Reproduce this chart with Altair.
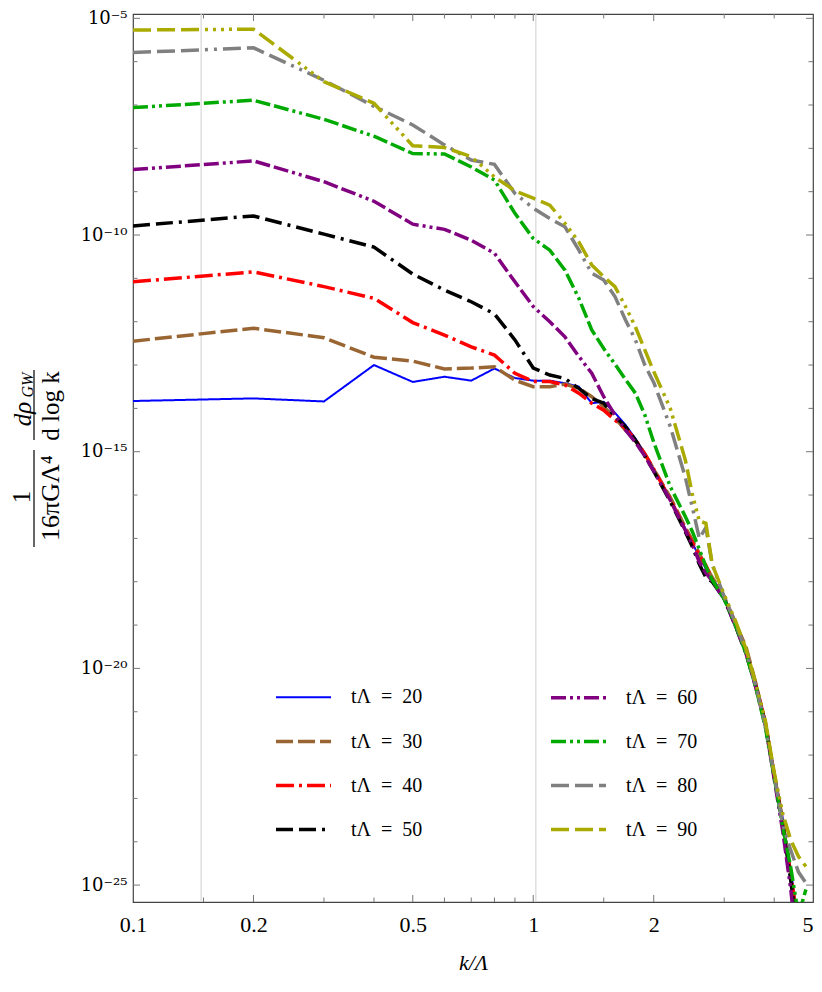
import altair as alt
import pandas as pd

# ---------------- data (log10 of the spectrum) ----------------
K = [0.1, 0.2, 0.3, 0.4, 0.5, 0.6, 0.7, 0.8, 0.9, 1.0,
     1.1, 1.2, 1.3, 1.4, 1.5, 1.6, 1.7, 1.8, 1.9, 2.0,
     2.2, 2.4, 2.5, 2.6, 2.7, 2.8, 3.0, 3.2, 3.4, 3.6,
     3.8, 4.0, 4.2, 4.4, 4.6, 4.8]

t20 = [-13.83, -13.77, -13.84, -13.00, -13.39, -13.27, -13.36, -13.08, -13.30, -13.36,
       -13.36, -13.42, -13.50, -13.88, -13.85, -14.10, -14.38, -14.70, -15.03, -15.42,
       -16.08, -16.78, -17.12, -17.42, -17.70, -17.92, -18.33, -18.98, -19.60, -20.35,
       -21.20, -22.40, -23.45, -24.65, -25.90, -27.00]
t30 = [-12.45, -12.15, -12.37, -12.82, -12.91, -13.09, -13.07, -13.04, -13.35, -13.50,
       -13.50, -13.44, -13.54, -13.73, -13.96, -14.22, -14.50, -14.75, -15.05, -15.40,
       -16.05, -16.75, -17.05, -17.35, -17.65, -17.90, -18.35, -18.95, -19.50, -20.35,
       -21.25, -22.45, -23.50, -24.75, -26.00, -27.20]
t40 = [-11.08, -10.85, -11.19, -11.46, -12.02, -12.31, -12.58, -12.77, -13.19, -13.38,
       -13.38, -13.46, -13.65, -13.88, -14.04, -14.27, -14.46, -14.72, -15.05, -15.40,
       -16.10, -16.80, -17.10, -17.40, -17.62, -17.95, -18.35, -18.98, -19.60, -20.38,
       -21.25, -22.45, -23.55, -24.80, -26.00, -27.30]
t50 = [-9.79, -9.56, -9.98, -10.28, -10.90, -11.27, -11.54, -11.82, -12.42, -13.07,
       -13.23, -13.31, -13.54, -13.77, -13.88, -14.19, -14.42, -14.73, -15.10, -15.45,
       -16.15, -16.85, -17.20, -17.60, -17.90, -18.00, -18.40, -19.02, -19.65, -20.42,
       -21.28, -22.50, -23.60, -24.90, -26.30, -27.60]
t60 = [-8.49, -8.29, -8.77, -9.22, -9.75, -9.87, -10.12, -10.42, -11.08, -11.65,
       -12.00, -12.35, -12.80, -13.19, -13.73, -14.15, -14.50, -14.78, -15.10, -15.45,
       -16.12, -16.82, -17.15, -17.55, -17.80, -17.98, -18.40, -19.02, -19.65, -20.45,
       -21.30, -22.55, -23.75, -25.10, -26.80, -28.00]
t70 = [-7.06, -6.89, -7.33, -7.72, -8.12, -8.13, -8.43, -8.73, -9.50, -10.08,
       -10.35, -10.81, -11.46, -12.19, -12.62, -12.98, -13.33, -13.65, -14.15, -14.78,
       -15.81, -16.50, -16.85, -17.25, -17.65, -17.96, -18.40, -19.00, -19.65, -20.45,
       -21.35, -22.50, -23.65, -24.60, -25.70, -25.10]
t80 = [-5.79, -5.68, -6.43, -7.03, -7.46, -7.92, -8.27, -8.37, -9.04, -9.38,
       -9.62, -9.81, -10.35, -10.88, -11.04, -11.42, -11.96, -12.42, -13.00, -13.40,
       -14.42, -15.60, -16.30, -17.00, -16.75, -17.60, -18.35, -18.95, -19.60, -20.40,
       -21.30, -22.45, -23.60, -24.20, -24.70, -24.95]
t90 = [-5.27, -5.25, -6.46, -6.96, -7.94, -7.98, -8.19, -8.66, -8.98, -9.15,
       -9.31, -9.73, -10.16, -10.69, -10.96, -11.19, -11.65, -12.12, -12.65, -13.15,
       -14.00, -15.20, -16.00, -16.60, -16.65, -17.60, -18.30, -18.90, -19.55, -20.35,
       -21.20, -22.40, -23.35, -23.96, -24.34, -24.57]

SERIES = ["20", "30", "40", "50", "60", "70", "80", "90"]
VALUES = [t20, t30, t40, t50, t60, t70, t80, t90]
COLORS = ["#0000ff", "#996633", "#ff0000", "#000000", "#800080", "#00aa00", "#808080", "#aaaa00"]
DASHES = [[1, 0], [17, 5], [18, 5, 3, 5], [17, 6, 17, 6, 3, 6],
          [15, 4, 3, 4, 3, 4, 15, 4, 15, 4], [15, 4, 3, 4, 3, 4, 15, 4, 15, 4],
          [18, 6, 18, 6, 18, 6, 3, 6, 3, 6],
          [18, 6, 18, 6, 18, 6, 3, 5, 3, 5, 3, 5, 3, 5]]
WIDTHS = [2.0, 3.5, 3.5, 3.5, 3.5, 3.5, 3.5, 3.5]

X_LABELS = [0.1, 0.2, 0.5, 1, 2, 5]
X_MAJOR = [0.2, 0.5, 1, 2]
X_MINOR = [0.15, 0.3, 0.4, 0.6, 0.7, 0.8, 0.9, 1.5, 3, 4]
Y_MAJOR = [1e-5, 1e-10, 1e-15, 1e-20, 1e-25]
Y_MINOR = [10.0 ** -e for e in range(6, 25) if e % 5 != 0]
GRID_X = [0.148, 1.015]

rows = []
for s, vals in zip(SERIES, VALUES):
    for k, v in zip(K, vals):
        rows.append({"k": k, "val": 10.0 ** v, "series": s})
df = pd.DataFrame(rows)

W, H = 680, 888
SERIF = "Liberation Serif"
TICK = "#777777"

xs = alt.Scale(type="log", domain=[0.1, 5], nice=False)
ys = alt.Scale(type="log", domain=[10 ** -25.39, 10 ** -4.90], nice=False)

ylabel_expr = ("datum.value > 1e-7 ? '10⁻⁵' : datum.value > 1e-12 ? '10⁻¹⁰' : "
               "datum.value > 1e-17 ? '10⁻¹⁵' : datum.value > 1e-22 ? '10⁻²⁰' : '10⁻²⁵'")

X_AXIS = alt.Axis(values=X_LABELS, format="~g", ticks=False, tickSize=0, domain=False,
                  grid=False, labelFont=SERIF, labelFontSize=22, labelColor="black",
                  labelPadding=12, labelFlush=False, labelOverlap=False,
                  labelAlign={"condition": {"test": "datum.value >= 4.9", "value": "right"},
                              "value": "center"},
                  title="k/Λ", titleFont=SERIF, titleFontSize=22,
                  titleFontWeight="normal", titleFontStyle="italic",
                  titleColor="black", titlePadding=17)
Y_AXIS = alt.Axis(values=Y_MAJOR, labelExpr=ylabel_expr, ticks=False, tickSize=0,
                  domain=False, grid=False, labelFont="DejaVu Serif", labelFontSize=18,
                  labelColor="black", labelPadding=6, labelFlush=False,
                  labelOverlap=False, title=None)

legend = alt.Legend(orient="none", legendX=141, legendY=654, columns=2, title=None,
                    symbolType="stroke", symbolSize=3025, labelOffset=18,
                    labelFont=SERIF, labelFontSize=20, labelColor="black",
                    labelExpr="'tΛ\u2002=\u2002' + datum.label",
                    columnPadding=121, rowPadding=4, padding=0)

grid = alt.Chart(pd.DataFrame({"k": GRID_X})).mark_rule(color="#d9d9d9", strokeWidth=1.3).encode(
    x=alt.X("k:Q", scale=xs, axis=X_AXIS), y=alt.value(0), y2=alt.value(H))

lines = alt.Chart(df).mark_line(clip=True, strokeJoin="miter").encode(
    x=alt.X("k:Q", scale=xs, axis=X_AXIS),
    y=alt.Y("val:Q", scale=ys, axis=Y_AXIS),
    color=alt.Color("series:N", scale=alt.Scale(domain=SERIES, range=COLORS), legend=legend),
    strokeDash=alt.StrokeDash("series:N", scale=alt.Scale(domain=SERIES, range=DASHES),
                              legend=legend),
    strokeWidth=alt.StrokeWidth("series:N", scale=alt.Scale(type="ordinal", domain=SERIES,
                                                            range=WIDTHS),
                                legend=legend),
    order=alt.Order("k:Q"),
)


def xticks(vals, length, top):
    y0, y1 = (0, length) if top else (H, H - length)
    return alt.Chart(pd.DataFrame({"k": vals})).mark_rule(color=TICK, strokeWidth=1).encode(
        x=alt.X("k:Q", scale=xs, axis=X_AXIS), y=alt.value(y0), y2=alt.value(y1))


def yticks(vals, length, right):
    x0, x1 = (W, W - length) if right else (0, length)
    return alt.Chart(pd.DataFrame({"val": vals})).mark_rule(color=TICK, strokeWidth=1).encode(
        y=alt.Y("val:Q", scale=ys, axis=Y_AXIS), x=alt.value(x0), x2=alt.value(x1))


def txt(s, x, y, size, style="normal"):
    return alt.Chart(pd.DataFrame({"t": [s]})).mark_text(
        angle=270, align="center", baseline="middle", font=SERIF, fontSize=size,
        fontStyle=style, color="black").encode(x=alt.value(x), y=alt.value(y), text="t:N")


def bar(x, y0, y1):
    return alt.Chart(pd.DataFrame({"t": [0]})).mark_rule(color="black", strokeWidth=1.2).encode(
        x=alt.value(x), y=alt.value(y0), y2=alt.value(y1))


layers = [grid, lines,
          xticks(X_MAJOR, 7, False), xticks(X_MINOR, 4.5, False),
          xticks(X_MAJOR, 7, True), xticks(X_MINOR, 4.5, True),
          yticks(Y_MAJOR, 7, False), yticks(Y_MINOR, 4.5, False),
          yticks(Y_MAJOR, 7, True), yticks(Y_MINOR, 4.5, True),
          txt("1", -111, 483, 25),
          bar(-99, 436, 533),
          txt("16πGΛ⁴", -82, 484, 26),
          txt("dρ", -110, 400, 25, "italic"),
          txt("GW", -105, 371, 16, "italic"),
          bar(-99, 356, 426),
          txt("d log k", -82, 392, 25)]

chart = alt.layer(*layers).properties(
    width=W, height=H,
    autosize=alt.AutoSizeParams(type="none"),
    padding={"left": 125, "top": 6, "right": 1, "bottom": 74},
).configure_view(stroke="#444444", strokeWidth=1.2)

chart.save("out.html", embed_options={"renderer": "svg", "actions": False})
